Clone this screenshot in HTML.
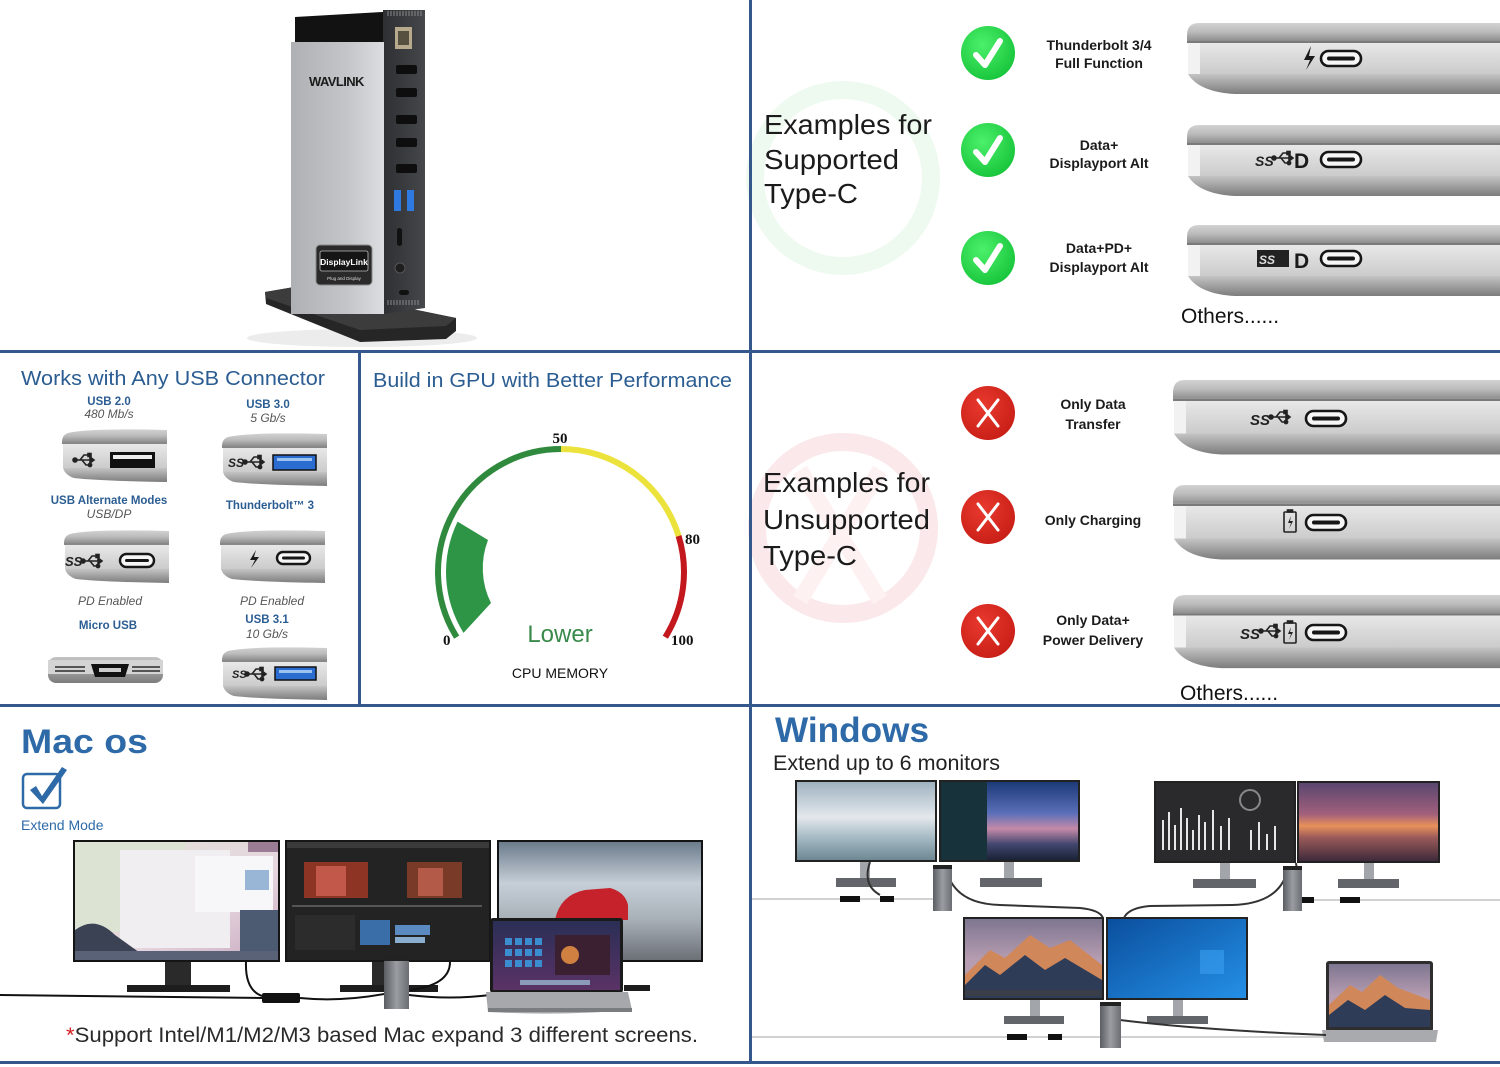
<!DOCTYPE html>
<html><head><meta charset="utf-8"><style>
html,body{margin:0;padding:0;background:#fff;}
svg{display:block;}
text{font-family:"Liberation Sans",sans-serif;}
.serif{font-family:"Liberation Serif",serif;}
</style></head><body>
<svg width="1500" height="1067" viewBox="0 0 1500 1067" xmlns="http://www.w3.org/2000/svg">
<defs>
 <linearGradient id="lid" x1="0" y1="0" x2="0" y2="1"><stop offset="0" stop-color="#d2d2d2"/><stop offset="0.5" stop-color="#bbbbbb"/><stop offset="1" stop-color="#8e8e8e"/></linearGradient>
 <linearGradient id="mid" x1="0" y1="0" x2="0" y2="1"><stop offset="0" stop-color="#e8e8e8"/><stop offset="1" stop-color="#cbcbcb"/></linearGradient>
 <linearGradient id="bot" x1="0" y1="0" x2="0" y2="1"><stop offset="0" stop-color="#c4c4c4"/><stop offset="1" stop-color="#7c7c7c"/></linearGradient>
 <linearGradient id="silver" x1="0" y1="0" x2="1" y2="0"><stop offset="0" stop-color="#aeb0b3"/><stop offset="0.6" stop-color="#c3c5c8"/><stop offset="1" stop-color="#dcdde0"/></linearGradient>
 <linearGradient id="side" x1="0" y1="0" x2="1" y2="0"><stop offset="0" stop-color="#2e2f33"/><stop offset="1" stop-color="#46474b"/></linearGradient>
 <linearGradient id="dockg" x1="0" y1="0" x2="1" y2="0"><stop offset="0" stop-color="#5a5d62"/><stop offset="0.5" stop-color="#9a9da2"/><stop offset="1" stop-color="#6a6d72"/></linearGradient>
 <radialGradient id="gck" cx="0.4" cy="0.35" r="0.7"><stop offset="0" stop-color="#4cf06a"/><stop offset="1" stop-color="#16c43a"/></radialGradient>
 <radialGradient id="rck" cx="0.4" cy="0.35" r="0.7"><stop offset="0" stop-color="#e8392e"/><stop offset="1" stop-color="#c81e16"/></radialGradient>
 <linearGradient id="sky1" x1="0" y1="0" x2="0" y2="1"><stop offset="0" stop-color="#6c7c8c"/><stop offset="0.35" stop-color="#c6cfd8"/><stop offset="0.65" stop-color="#a9b1b8"/><stop offset="1" stop-color="#6b7076"/></linearGradient>
 <linearGradient id="macl" x1="0" y1="0" x2="1" y2="1"><stop offset="0" stop-color="#dfe2d6"/><stop offset="0.6" stop-color="#e6d6de"/><stop offset="1" stop-color="#c8a9c0"/></linearGradient>
 <linearGradient id="lap" x1="0" y1="0" x2="0" y2="1"><stop offset="0" stop-color="#2a2f55"/><stop offset="1" stop-color="#5a3266"/></linearGradient>
 <linearGradient id="w1" x1="0" y1="0" x2="0" y2="1"><stop offset="0" stop-color="#9fb2c0"/><stop offset="0.45" stop-color="#e4e8ec"/><stop offset="0.7" stop-color="#a8bcc6"/><stop offset="1" stop-color="#6d8894"/></linearGradient>
 <linearGradient id="w2" x1="0" y1="0" x2="0" y2="1"><stop offset="0" stop-color="#1c3a78"/><stop offset="0.4" stop-color="#5a6fb8"/><stop offset="0.6" stop-color="#c58aa8"/><stop offset="0.8" stop-color="#41466e"/><stop offset="1" stop-color="#1a2236"/></linearGradient>
 <linearGradient id="w4" x1="0" y1="0" x2="0" y2="1"><stop offset="0" stop-color="#5a4670"/><stop offset="0.4" stop-color="#a2607c"/><stop offset="0.55" stop-color="#e8915a"/><stop offset="0.7" stop-color="#9a5a5a"/><stop offset="1" stop-color="#3e2a3a"/></linearGradient>
 <linearGradient id="w5" x1="0" y1="0" x2="0" y2="1"><stop offset="0" stop-color="#7e7690"/><stop offset="0.5" stop-color="#b59cb0"/><stop offset="1" stop-color="#b8a0b0"/></linearGradient>
 <linearGradient id="w6" x1="0" y1="0" x2="1" y2="1"><stop offset="0" stop-color="#0b4f9e"/><stop offset="1" stop-color="#2490e6"/></linearGradient>
 <g id="edge">
   <path d="M12,0 H330 V18 H0 V12 Q0,0 12,0Z" fill="url(#lid)"/>
   <rect x="0" y="18" width="330" height="2" fill="#7a7a7a"/>
   <rect x="1" y="20" width="329" height="31" fill="url(#mid)"/>
   <rect x="1" y="20" width="12" height="31" fill="#f2f2f2"/>
   <path d="M1,51 H330 V71 H48 Q12,69 1,51Z" fill="url(#bot)"/>
 </g>
 <g id="mini">
   <path d="M8,5 Q30,0 107,2 V14 H2 Q2,7 8,5Z" fill="url(#lid)"/>
   <rect x="2" y="14" width="105" height="2" fill="#888"/>
   <rect x="3" y="16" width="104" height="24" fill="url(#mid)"/>
   <path d="M3,40 H107 V54 Q40,53 14,50 Q5,47 3,40Z" fill="url(#bot)"/>
 </g>
 <g id="pill">
   <rect x="0" y="0" width="40" height="15" rx="7.5" fill="#f6f6f6" stroke="#161616" stroke-width="2.6"/>
   <rect x="6" y="5.5" width="28" height="4" rx="2" fill="#161616"/>
 </g>
 <g id="tri" fill="none" stroke="#222" stroke-width="1.6">
   <path d="M0,0 H18"/><path d="M18,0 l-4,-3 v6 z" fill="#222"/>
   <path d="M4,0 L8,-5 H12"/><rect x="12" y="-6.5" width="3" height="3" fill="#222"/>
   <path d="M6,0 L10,5 H13"/><circle cx="14" cy="5" r="1.6" fill="#222"/>
   <circle cx="-1" cy="0" r="2" fill="#222"/>
 </g>
 <g id="bat" fill="none" stroke="#222" stroke-width="1.6">
   <rect x="0" y="2" width="12" height="20" rx="1"/><rect x="3.5" y="0" width="5" height="2" fill="#222"/>
   <path d="M7,6 L4,13 H7 L5,19 L9,11 H6 Z" fill="#222" stroke="none"/>
 </g>
</defs>

<rect width="1500" height="1067" fill="#fff"/>

<!-- ============ TOP LEFT: DOCK ============ -->
<ellipse cx="362" cy="338" rx="115" ry="9" fill="#ececec"/>
<polygon points="265,292 300,286 456,318 456,331 446,339 360,342 266,304" fill="#262626"/>
<polygon points="265,292 300,286 456,318 446,326 360,330 266,298" fill="#3c3c3c"/>
<polygon points="383,10 425,10 425,308 383,314" fill="url(#side)"/>
<g stroke="#888" stroke-width="1">
 <path d="M388,11v5M391,11v5M394,11v5M397,11v5M400,11v5M403,11v5M406,11v5M409,11v5M412,11v5M415,11v5M418,11v5M421,11v5"/>
 <path d="M388,300v5M391,300v5M394,300v5M397,300v5M400,300v5M403,300v5M406,300v5M409,300v5M412,300v5M415,300v5M418,300v5"/>
</g>
<polygon points="295,17 383,12 383,43 295,43" fill="#121212"/>
<rect x="291" y="42" width="93" height="272" fill="url(#silver)"/>
<text x="309" y="86" font-size="13" font-weight="bold" fill="#1b1b1b" letter-spacing="-0.6">WAVLINK</text>
<rect x="316" y="245" width="56" height="40" rx="4" fill="#2a2a2a" stroke="#8a8a8a" stroke-width="1"/>
<rect x="320" y="251" width="48" height="20" rx="2" fill="#151515" stroke="#bbb" stroke-width="0.8"/>
<text x="344" y="265" font-size="8.5" font-weight="bold" fill="#fff" text-anchor="middle">DisplayLink</text>
<text x="344" y="280" font-size="4.5" fill="#ddd" text-anchor="middle">Plug and Display</text>
<rect x="395" y="27" width="17" height="22" fill="#b7aa8d"/><rect x="398" y="31" width="11" height="14" fill="#55503f"/>
<rect x="396" y="65" width="21" height="9" rx="2" fill="#0e0e0e"/>
<rect x="396" y="88" width="21" height="9" rx="2" fill="#0e0e0e"/>
<rect x="396" y="115" width="21" height="9" rx="2" fill="#0e0e0e"/>
<rect x="396" y="138" width="21" height="9" rx="2" fill="#0e0e0e"/>
<rect x="396" y="164" width="21" height="9" rx="2" fill="#0e0e0e"/>
<rect x="394" y="190" width="7" height="21" fill="#2f7ae0"/><rect x="407" y="190" width="7" height="21" fill="#2f7ae0"/>
<rect x="397" y="228" width="5" height="18" rx="2.5" fill="#111"/>
<circle cx="400" cy="268" r="5" fill="#1e1e1e" stroke="#555"/>
<rect x="399" y="290" width="10" height="5" rx="2.5" fill="#111"/>

<!-- ============ TOP RIGHT: SUPPORTED ============ -->
<circle cx="843" cy="178" r="88" fill="none" stroke="#eefaf0" stroke-width="18"/>
<g fill="#1b1b1b" font-size="28">
 <text x="764" y="134" textLength="168" lengthAdjust="spacingAndGlyphs">Examples for</text>
 <text x="764" y="169" textLength="135" lengthAdjust="spacingAndGlyphs">Supported</text>
 <text x="764" y="203" textLength="94" lengthAdjust="spacingAndGlyphs">Type-C</text>
</g>
<g>
 <circle cx="988" cy="53" r="27" fill="url(#gck)"/>
 <circle cx="988" cy="150" r="27" fill="url(#gck)"/>
 <circle cx="988" cy="258" r="27" fill="url(#gck)"/>
 <g fill="none" stroke="#fff" stroke-width="6" stroke-linecap="round" stroke-linejoin="round">
  <path d="M976,55 L985,65 L1000,41"/>
  <path d="M976,152 L985,162 L1000,138"/>
  <path d="M976,260 L985,270 L1000,246"/>
 </g>
</g>
<g fill="#1b1b1b" font-size="14" font-weight="bold" text-anchor="middle">
 <text x="1099" y="50">Thunderbolt 3/4</text>
 <text x="1099" y="68">Full Function</text>
 <text x="1099" y="150">Data+</text>
 <text x="1099" y="168">Displayport Alt</text>
 <text x="1099" y="253">Data+PD+</text>
 <text x="1099" y="272">Displayport Alt</text>
</g>
<use href="#edge" x="1187" y="23"/>
<use href="#edge" x="1187" y="125"/>
<use href="#edge" x="1187" y="225"/>
<path d="M1311,46 L1304,60 H1310 L1306,70 L1315,56 H1309 Z" fill="#1a1a1a"/>
<use href="#pill" x="1321" y="51"/>
<text x="1255" y="166" font-size="14" font-style="italic" font-weight="bold" fill="#222">SS</text>
<use href="#tri" x="1275" y="158" transform="translate(0,0)"/>
<text x="1294" y="168" font-size="21" font-weight="bold" fill="#1a1a1a">D</text>
<use href="#pill" x="1321" y="152"/>
<rect x="1257" y="250" width="32" height="17" fill="#222"/>
<text x="1259" y="264" font-size="12" font-style="italic" font-weight="bold" fill="#ddd">SS</text>
<text x="1294" y="268" font-size="21" font-weight="bold" fill="#1a1a1a">D</text>
<use href="#pill" x="1321" y="251"/>
<text x="1181" y="323" font-size="21" fill="#111">Others......</text>

<!-- ============ MIDDLE RIGHT: UNSUPPORTED ============ -->
<circle cx="843" cy="528" r="86" fill="none" stroke="#fbe8ea" stroke-width="18"/>
<path d="M800,470 L880,600 M880,470 L800,600" stroke="#fdf1f2" stroke-width="16"/>
<g fill="#1b1b1b" font-size="28">
 <text x="763" y="492" textLength="167" lengthAdjust="spacingAndGlyphs">Examples for</text>
 <text x="763" y="529" textLength="167" lengthAdjust="spacingAndGlyphs">Unsupported</text>
 <text x="763" y="565" textLength="94" lengthAdjust="spacingAndGlyphs">Type-C</text>
</g>
<circle cx="988" cy="413" r="27" fill="url(#rck)"/>
<circle cx="988" cy="517" r="27" fill="url(#rck)"/>
<circle cx="988" cy="631" r="27" fill="url(#rck)"/>
<g stroke="#fff" stroke-width="3" stroke-linecap="round">
 <path d="M978,400 L998,426 M998,400 L978,426"/>
 <path d="M978,504 L998,530 M998,504 L978,530"/>
 <path d="M978,618 L998,644 M998,618 L978,644"/>
</g>
<g fill="#1b1b1b" font-size="14" font-weight="bold" text-anchor="middle">
 <text x="1093" y="409">Only Data</text>
 <text x="1093" y="429">Transfer</text>
 <text x="1093" y="525">Only Charging</text>
 <text x="1093" y="625">Only Data+</text>
 <text x="1093" y="645">Power Delivery</text>
</g>
<g transform="translate(1173,380) scale(1,1.05)"><use href="#edge"/></g>
<g transform="translate(1173,485) scale(1,1.05)"><use href="#edge"/></g>
<g transform="translate(1173,595) scale(1,1.03)"><use href="#edge"/></g>
<text x="1250" y="425" font-size="15" font-style="italic" font-weight="bold" fill="#222">SS</text>
<use href="#tri" x="1272" y="417"/>
<use href="#pill" x="1306" y="411"/>
<use href="#bat" x="1284" y="510"/>
<use href="#pill" x="1306" y="515"/>
<text x="1240" y="639" font-size="15" font-style="italic" font-weight="bold" fill="#222">SS</text>
<use href="#tri" x="1262" y="631"/>
<use href="#bat" x="1284" y="621"/>
<use href="#pill" x="1306" y="625"/>
<text x="1180" y="700" font-size="21" fill="#111">Others......</text>

<!-- ============ MIDDLE LEFT: USB ============ -->
<g fill="#2b5d92">
 <text x="21" y="385" font-size="20" textLength="304" lengthAdjust="spacingAndGlyphs">Works with Any USB Connector</text>
 <text x="373" y="387" font-size="20" textLength="359" lengthAdjust="spacingAndGlyphs">Build in GPU with Better Performance</text>
</g>
<g font-size="11.5" font-weight="bold" fill="#2b5d92" text-anchor="middle">
 <text x="109" y="405">USB 2.0</text>
 <text x="268" y="408">USB 3.0</text>
 <text x="109" y="504">USB Alternate Modes</text>
 <text x="270" y="509">Thunderbolt™ 3</text>
 <text x="108" y="629">Micro USB</text>
 <text x="267" y="623">USB 3.1</text>
</g>
<g font-size="12" font-style="italic" fill="#555" text-anchor="middle">
 <text x="109" y="418">480 Mb/s</text>
 <text x="268" y="422">5 Gb/s</text>
 <text x="109" y="518">USB/DP</text>
 <text x="110" y="605">PD Enabled</text>
 <text x="272" y="605">PD Enabled</text>
 <text x="267" y="638">10 Gb/s</text>
</g>
<use href="#mini" x="60" y="428"/>
<use href="#mini" x="220" y="432"/>
<use href="#mini" x="62" y="529"/>
<use href="#mini" x="218" y="529"/>
<use href="#mini" x="220" y="646"/>
<use href="#tri" x="76" y="460"/>
<rect x="110" y="452" width="45" height="16" fill="#111"/><rect x="113" y="455" width="39" height="4" fill="#eee"/>
<text x="228" y="467" font-size="12" font-style="italic" font-weight="bold" fill="#222">SS</text>
<use href="#tri" x="246" y="462"/>
<rect x="273" y="455" width="43" height="15" fill="#2a6ccf" stroke="#111" stroke-width="1.5"/><rect x="277" y="458" width="35" height="3" fill="#9cc2f0"/>
<text x="65" y="566" font-size="13" font-style="italic" font-weight="bold" fill="#222">SS</text>
<use href="#tri" x="84" y="561"/>
<rect x="120" y="554" width="34" height="13" rx="6.5" fill="#f6f6f6" stroke="#161616" stroke-width="2.4"/><rect x="125" y="559" width="24" height="3" rx="1.5" fill="#161616"/>
<path d="M256,550 L250,560 H255 L251,568 L259,557 H254 Z" fill="#1a1a1a"/>
<rect x="277" y="552" width="33" height="12" rx="6" fill="#f6f6f6" stroke="#161616" stroke-width="2.4"/><rect x="282" y="556.5" width="23" height="3" rx="1.5" fill="#161616"/>
<rect x="48" y="657" width="115" height="26" rx="8" fill="url(#bot)"/>
<rect x="48" y="660" width="115" height="14" fill="#d4d4d4"/>
<g fill="#555"><rect x="55" y="666" width="30" height="2"/><rect x="55" y="670" width="30" height="2"/><rect x="132" y="666" width="28" height="2"/><rect x="132" y="670" width="28" height="2"/></g>
<path d="M91,664 H129 L125,677 H95 Z" fill="#111"/><rect x="99" y="668" width="22" height="4" fill="#ccc"/>
<text x="232" y="678" font-size="11" font-style="italic" font-weight="bold" fill="#222">SS</text>
<use href="#tri" x="248" y="674" transform="translate(0,0)"/>
<rect x="275" y="667" width="41" height="13" fill="#2a6ccf" stroke="#111" stroke-width="1.5"/><rect x="279" y="670" width="33" height="3" fill="#9cc2f0"/>

<!-- ============ GAUGE ============ -->
<path d="M456.7,637.2 A123,123 0 0 1 561,449" fill="none" stroke="#2f8a3e" stroke-width="6"/>
<path d="M561,449 A123,123 0 0 1 678.6,536" fill="none" stroke="#ece23c" stroke-width="6"/>
<path d="M678.6,536 A123,123 0 0 1 665.3,637.2" fill="none" stroke="#c3181e" stroke-width="6"/>
<path d="M457.6,521.6 L488,540 A78,78 0 0 0 491,603 L463.5,632.9 A115,115 0 0 1 457.6,521.6 Z" fill="#2e9446"/>
<g class="serif" font-size="15" font-weight="bold" fill="#111">
 <text x="560" y="443" text-anchor="middle" class="serif">50</text>
 <text x="685" y="544" class="serif">80</text>
 <text x="443" y="645" class="serif">0</text>
 <text x="671" y="645" class="serif">100</text>
</g>
<text x="560" y="642" font-size="24" fill="#3a8a4c" text-anchor="middle">Lower</text>
<text x="560" y="678" font-size="14" fill="#111" text-anchor="middle">CPU MEMORY</text>

<!-- ============ BOTTOM LEFT: MAC OS ============ -->
<text x="21" y="753" font-size="34" font-weight="bold" fill="#2e6aa8" textLength="127" lengthAdjust="spacingAndGlyphs">Mac os</text>
<rect x="23" y="774" width="37" height="34" rx="4" fill="none" stroke="#2e6aa8" stroke-width="2.5"/>
<path d="M30,790 L36,786 L42,796 L62,767 L67,770 L43,804 Z" fill="#2e6aa8"/>
<text x="21" y="830" font-size="14" fill="#2e6aa8">Extend Mode</text>

<!-- left monitor -->
<rect x="73" y="840" width="207" height="122" fill="#141414"/>
<rect x="75" y="842" width="203" height="118" fill="url(#macl)"/>
<rect x="75" y="842" width="110" height="90" fill="#dde3d3"/>
<rect x="120" y="850" width="110" height="98" fill="#f1eef1"/>
<rect x="195" y="856" width="78" height="56" fill="#f7f7f9"/>
<rect x="245" y="870" width="24" height="20" fill="#9ab6d6"/>
<rect x="248" y="842" width="30" height="10" fill="#9a7c95"/>
<path d="M75,960 L75,930 Q95,915 115,935 L150,960 Z" fill="#3b4254"/>
<rect x="240" y="910" width="38" height="50" fill="#4c5a72"/>
<rect x="75" y="951" width="203" height="9" fill="#5a6278"/>
<!-- center monitor -->
<rect x="285" y="840" width="206" height="122" fill="#161616"/>
<rect x="287" y="842" width="202" height="118" fill="#232323"/>
<rect x="287" y="842" width="202" height="6" fill="#3a3a3a"/>
<rect x="304" y="862" width="64" height="36" fill="#8e3424"/>
<rect x="316" y="866" width="30" height="30" fill="#c2584a"/>
<rect x="407" y="862" width="55" height="36" fill="#7a3a28"/>
<rect x="418" y="868" width="25" height="28" fill="#b45a48"/>
<rect x="292" y="905" width="190" height="2" fill="#555"/>
<rect x="295" y="915" width="60" height="35" fill="#2c2c2c"/>
<rect x="360" y="920" width="30" height="25" fill="#3a6ea8"/>
<rect x="395" y="925" width="35" height="10" fill="#5a8ac0"/>
<rect x="395" y="937" width="30" height="6" fill="#8aaed0"/>
<!-- right monitor -->
<rect x="497" y="840" width="206" height="122" fill="#141414"/>
<rect x="499" y="842" width="202" height="118" fill="url(#sky1)"/>
<path d="M555,920 Q560,895 585,890 L610,888 Q625,892 628,905 L628,920 Z" fill="#c5222b"/>
<rect x="560" y="918" width="10" height="8" rx="4" fill="#222"/><rect x="610" y="918" width="10" height="8" rx="4" fill="#222"/>
<!-- stands -->
<rect x="165" y="962" width="26" height="24" fill="#2a2a2a"/><rect x="127" y="985" width="103" height="7" fill="#1d1d1d"/>
<rect x="372" y="962" width="28" height="24" fill="#2a2a2a"/><rect x="340" y="985" width="98" height="7" fill="#1d1d1d"/>
<rect x="624" y="985" width="26" height="6" fill="#1d1d1d"/>
<!-- cables -->
<g fill="none" stroke="#111" stroke-width="2">
 <path d="M0,995 L262,998"/>
 <path d="M246,962 Q245,990 262,996"/>
 <path d="M300,998 Q340,1002 384,994"/>
 <path d="M450,962 Q450,985 410,990"/>
 <path d="M409,995 Q450,1000 490,995"/>
</g>
<rect x="262" y="993" width="38" height="10" rx="2" fill="#111"/>
<rect x="384" y="957" width="25" height="52" fill="url(#dockg)"/><rect x="384" y="957" width="25" height="4" fill="#222"/>
<!-- laptop -->
<rect x="490" y="918" width="133" height="75" rx="3" fill="#1a1a1a"/>
<rect x="493" y="921" width="127" height="69" fill="url(#lap)"/>
<g fill="#3a8ed0">
 <rect x="505" y="938" width="7" height="7"/><rect x="515" y="938" width="7" height="7"/><rect x="525" y="938" width="7" height="7"/><rect x="535" y="938" width="7" height="7"/>
 <rect x="505" y="949" width="7" height="7"/><rect x="515" y="949" width="7" height="7"/><rect x="525" y="949" width="7" height="7"/><rect x="535" y="949" width="7" height="7"/>
 <rect x="505" y="960" width="7" height="7"/><rect x="515" y="960" width="7" height="7"/><rect x="525" y="960" width="7" height="7"/><rect x="535" y="960" width="7" height="7"/>
</g>
<rect x="555" y="935" width="55" height="40" fill="#3a2030"/>
<circle cx="570" cy="955" r="9" fill="#d08040"/>
<rect x="520" y="980" width="70" height="5" fill="#8a9ab8"/>
<path d="M486,992 H628 L632,1010 Q560,1016 488,1012 Z" fill="#a6a8ac"/>
<rect x="488" y="1008" width="144" height="4" fill="#7a7c80"/>
<text x="66" y="1042" font-size="21" fill="#2a2a2a" textLength="632" lengthAdjust="spacingAndGlyphs"><tspan fill="#d02020">*</tspan>Support Intel/M1/M2/M3 based Mac expand 3 different screens.</text>

<!-- ============ BOTTOM RIGHT: WINDOWS ============ -->
<text x="775" y="742" font-size="35" font-weight="bold" fill="#2e6aa8" textLength="154" lengthAdjust="spacingAndGlyphs">Windows</text>
<text x="773" y="770" font-size="21" fill="#222" textLength="227" lengthAdjust="spacingAndGlyphs">Extend up to 6 monitors</text>
<!-- gray lines -->
<g stroke="#c4c4c4" stroke-width="1.5">
 <path d="M752,899 H935"/><path d="M1300,900 H1500"/><path d="M752,1037 H1330"/>
</g>
<!-- stands -->
<g fill="#a2a5aa">
 <rect x="860" y="862" width="10" height="17"/><rect x="1004" y="862" width="10" height="17"/>
 <rect x="1220" y="863" width="10" height="17"/><rect x="1364" y="863" width="10" height="17"/>
 <rect x="1030" y="1000" width="10" height="17"/><rect x="1173" y="1000" width="10" height="17"/>
</g>
<g fill="#62656a">
 <rect x="836" y="878" width="60" height="9"/><rect x="980" y="878" width="62" height="9"/>
 <rect x="1193" y="879" width="63" height="9"/><rect x="1338" y="879" width="61" height="9"/>
 <rect x="1004" y="1016" width="60" height="8"/><rect x="1147" y="1016" width="61" height="8"/>
</g>
<!-- screens -->
<rect x="795" y="780" width="142" height="82" fill="#222"/><rect x="797" y="782" width="138" height="78" fill="url(#w1)"/>
<rect x="939" y="780" width="141" height="82" fill="#222"/><rect x="941" y="782" width="137" height="78" fill="url(#w2)"/>
<rect x="941" y="782" width="46" height="78" fill="#17323a"/>
<rect x="1154" y="781" width="142" height="82" fill="#222"/><rect x="1156" y="783" width="138" height="78" fill="#2a2a2c"/>
<g fill="#e6e6e6">
 <rect x="1162" y="820" width="2" height="30"/><rect x="1168" y="812" width="2" height="38"/><rect x="1174" y="825" width="2" height="25"/><rect x="1180" y="808" width="2" height="42"/>
 <rect x="1186" y="818" width="2" height="32"/><rect x="1192" y="830" width="2" height="20"/><rect x="1198" y="815" width="2" height="35"/><rect x="1204" y="822" width="2" height="28"/>
 <rect x="1212" y="810" width="2" height="40"/><rect x="1220" y="826" width="2" height="24"/><rect x="1228" y="818" width="2" height="32"/><rect x="1250" y="830" width="2" height="20"/>
 <rect x="1258" y="822" width="2" height="28"/><rect x="1266" y="834" width="2" height="16"/><rect x="1274" y="826" width="2" height="24"/>
</g>
<circle cx="1250" cy="800" r="10" fill="none" stroke="#888" stroke-width="2"/>
<rect x="1297" y="781" width="143" height="82" fill="#222"/><rect x="1299" y="783" width="139" height="78" fill="url(#w4)"/>
<rect x="963" y="917" width="141" height="83" fill="#222"/><rect x="965" y="919" width="137" height="79" fill="url(#w5)"/>
<path d="M965,975 L990,950 L1005,958 L1030,935 L1050,948 L1070,940 L1102,965 L1102,998 L965,998 Z" fill="#d0875a"/>
<path d="M965,985 L985,965 L1000,975 L1025,955 L1045,970 L1065,958 L1102,980 L1102,998 L965,998 Z" fill="#2f3c58"/>
<rect x="965" y="990" width="137" height="6" fill="#3a3e48"/>
<rect x="1106" y="917" width="142" height="83" fill="#222"/><rect x="1108" y="919" width="138" height="79" fill="url(#w6)"/>
<rect x="1200" y="950" width="24" height="24" fill="#3aa0f0" opacity="0.6"/>
<!-- laptop -->
<rect x="1326" y="961" width="107" height="71" rx="3" fill="#2e2e2e"/>
<rect x="1329" y="964" width="101" height="63" fill="url(#w5)"/>
<path d="M1329,1005 L1350,985 L1362,992 L1380,975 L1398,988 L1430,1000 L1430,1027 L1329,1027 Z" fill="#d0875a"/>
<path d="M1329,1015 L1348,1000 L1365,1010 L1385,995 L1405,1008 L1430,1010 L1430,1027 L1329,1027 Z" fill="#2f3c58"/>
<path d="M1322,1030 H1438 L1436,1042 H1324 Z" fill="#a8aaae"/>
<!-- cables -->
<g fill="none" stroke="#333" stroke-width="2">
 <path d="M950,880 Q962,904 1000,905 L1080,908 Q1100,910 1103,918"/>
 <path d="M1284,880 Q1272,904 1232,905 L1150,906 Q1128,908 1124,918"/>
 <path d="M1120,1020 Q1200,1030 1326,1035"/>
 <path d="M870,862 Q862,885 880,895"/>
 <path d="M1296,863 Q1300,885 1290,895"/>
</g>
<rect x="840" y="896" width="20" height="6" fill="#111"/><rect x="880" y="896" width="14" height="6" fill="#111"/>
<rect x="1340" y="897" width="20" height="6" fill="#111"/><rect x="1300" y="897" width="14" height="6" fill="#111"/>
<rect x="1007" y="1034" width="20" height="6" fill="#111"/><rect x="1048" y="1034" width="14" height="6" fill="#111"/>
<!-- docks -->
<rect x="933" y="865" width="19" height="46" fill="url(#dockg)"/><rect x="933" y="865" width="19" height="4" fill="#222"/>
<rect x="1283" y="866" width="19" height="45" fill="url(#dockg)"/><rect x="1283" y="866" width="19" height="4" fill="#222"/>
<rect x="1100" y="1002" width="21" height="46" fill="url(#dockg)"/><rect x="1100" y="1002" width="21" height="4" fill="#222"/>

<!-- ============ GRID LINES ============ -->
<g fill="#34588c">
 <rect x="749" y="0" width="3" height="1064"/>
 <rect x="0" y="350" width="1500" height="3"/>
 <rect x="0" y="704" width="1500" height="3"/>
 <rect x="358" y="351" width="3" height="355"/>
 <rect x="0" y="1061" width="1500" height="3"/>
</g>
</svg>
</body></html>
